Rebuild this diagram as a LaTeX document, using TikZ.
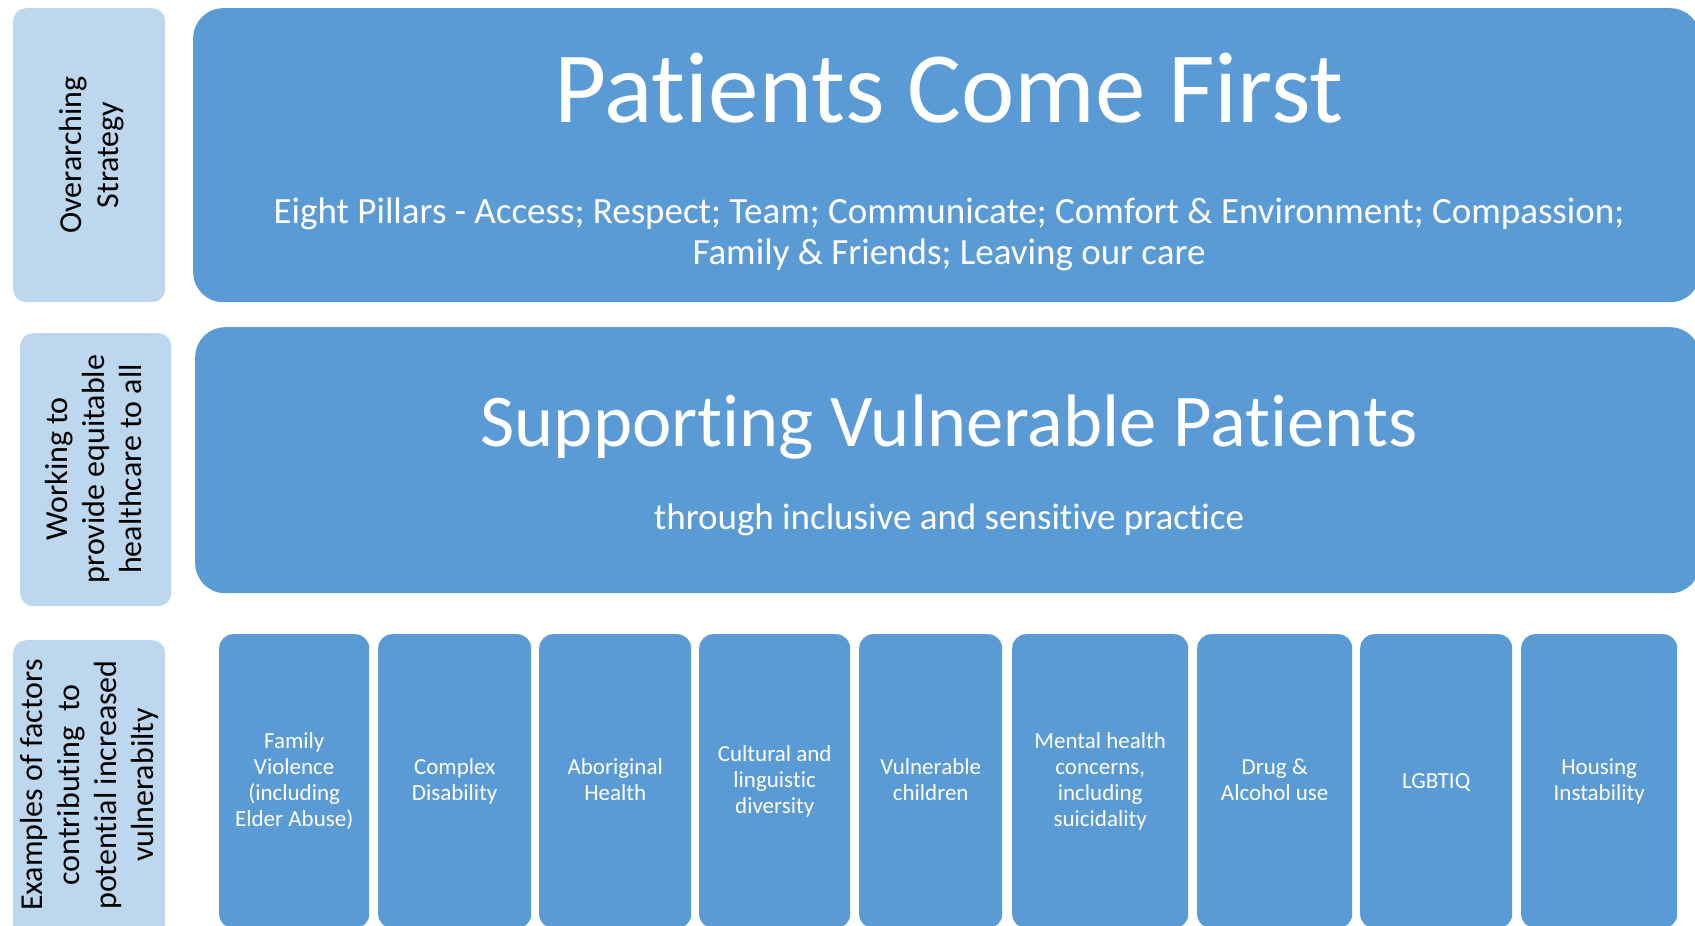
\documentclass[tikz,border=0pt]{standalone}
\usepackage{fontspec}
\setmainfont{Carlito}[Ligatures={NoCommon,NoRequired,NoContextual},Contextuals=NoAlternate]
\definecolor{dkblue}{HTML}{5B9BD5}
\definecolor{ltblue}{HTML}{BDD7EE}
\newcommand{\nl}{\kern0pt }
\begin{document}
\begin{tikzpicture}[x=1pt,y=-1pt,
  bigbox/.style={fill=dkblue, draw=none, rounded corners=30pt, anchor=north west, inner sep=0pt},
  sidebox/.style={fill=ltblue, draw=none, rounded corners=13pt, anchor=north west, inner sep=0pt},
  factorbox/.style={fill=dkblue, draw=none, rounded corners=14pt, anchor=north west, inner sep=0pt, minimum height=294pt},
  sidelabel/.style={rotate=90, align=center, text=black, inner sep=0pt, font=\fontsize{32}{37}\selectfont},
  factorlabel/.style={align=center, text=white, inner sep=0pt, yshift=-2.3pt,
    font=\fontsize{23}{26}\selectfont, execute at begin node=\strut, execute at end node=\strut},
  wtext/.style={text=white, inner sep=0pt},
]
\useasboundingbox (0,0) rectangle (1695,926);
\clip (0,0) rectangle (1695,926);
\fill[white] (0,0) rectangle (1695,926);

% side boxes
\node[sidebox, minimum width=152pt, minimum height=294pt] (s1) at (13,8) {};
\node[sidebox, minimum width=151pt, minimum height=273pt] (s2) at (20,333) {};
\node[sidebox, minimum width=152pt, minimum height=300pt] (s3) at (13,640) {};
\node[sidelabel] (l1) at (92,155) {Overarching\\Strategy};
\node[sidelabel] (l2) at (94,469) {Working to\\provide equitable\\healthcare to all};
\node[sidelabel] (l3) at (89,785) {Examples of factors\\contribut\nl ing\ \ to\\potent\nl ial increased\\vulnerabilty};

% big boxes
\node[bigbox, minimum width=1507pt, minimum height=294pt] (top) at (193,8) {};
\node[bigbox, minimum width=1505pt, minimum height=266pt] (mid) at (195,327) {};
\node[wtext, anchor=base, font=\fontsize{101}{120}\selectfont] (title) at (949,122) {Pat\nl ients Come First};
\node[wtext, align=center, font=\fontsize{37}{41}\selectfont] (pillars) at (949,234) {Eight Pillars - Access; Respect; Team; Communicate; Comfort \& Environment; Compassion;\\Family \& Friends; Leaving our care};
\node[wtext, anchor=base, font=\fontsize{74.5}{88}\selectfont] (svp) at (949,446) {Supporting Vulnerable Pat\nl ients};
\node[wtext, anchor=base, font=\fontsize{37}{43}\selectfont] (through) at (949,529) {through inclusive and sensit\nl ive pract\nl ice};

% factor boxes
\node[factorbox, minimum width=150pt] (b1) at (219,634) {};
\node[factorbox, minimum width=153pt] (b2) at (378,634) {};
\node[factorbox, minimum width=152pt] (b3) at (539,634) {};
\node[factorbox, minimum width=151pt] (b4) at (699,634) {};
\node[factorbox, minimum width=143pt] (b5) at (859,634) {};
\node[factorbox, minimum width=176pt] (b6) at (1012,634) {};
\node[factorbox, minimum width=155pt] (b7) at (1197,634) {};
\node[factorbox, minimum width=152pt] (b8) at (1360,634) {};
\node[factorbox, minimum width=156pt] (b9) at (1521,634) {};

\node[factorlabel] (f1) at (b1.center) {Family\\Violence\\(including\\Elder Abuse)};
\node[factorlabel] (f2) at (b2.center) {Complex\\Disability};
\node[factorlabel] (f3) at (b3.center) {Aboriginal\\Health};
\node[factorlabel] (f4) at (b4.center) {Cultural and\\linguis\nl t\nl ic\\diversity};
\node[factorlabel] (f5) at (b5.center) {Vulnerable\\children};
\node[factorlabel] (f6) at (b6.center) {Mental health\\concerns,\\including\\suicidality};
\node[factorlabel] (f7) at (b7.center) {Drug \&\\Alcohol use};
\node[factorlabel] (f8) at (b8.center) {LGBTIQ};
\node[factorlabel] (f9) at (b9.center) {Housing\\Instability};
\end{tikzpicture}
\end{document}
